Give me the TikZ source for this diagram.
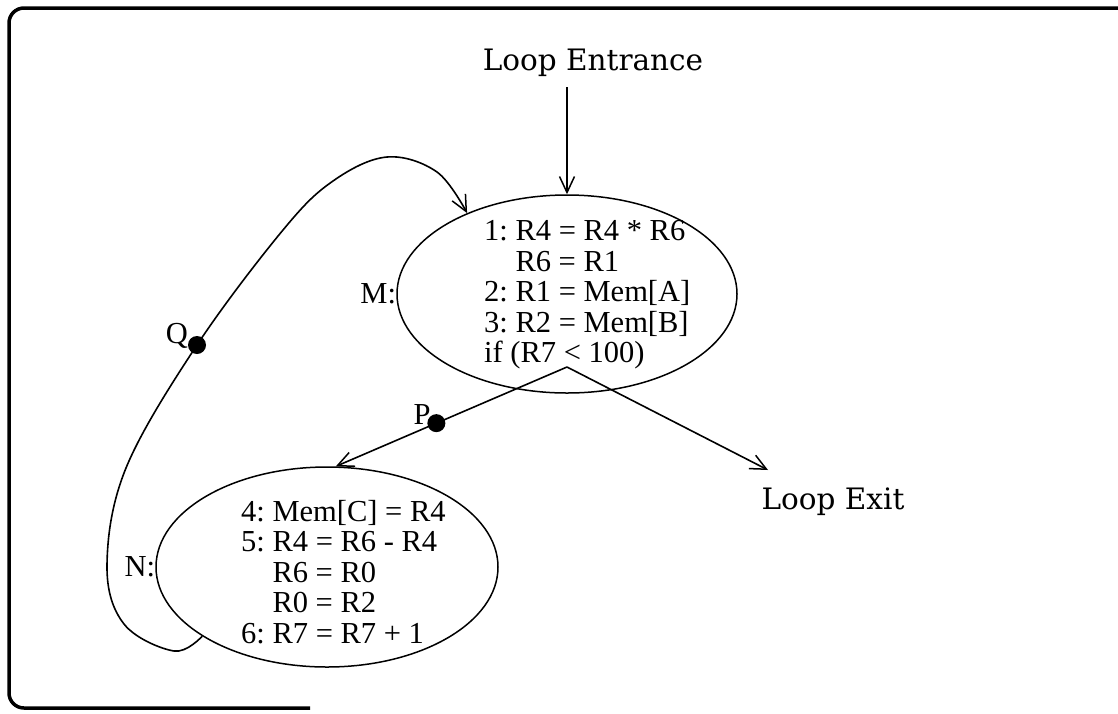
\documentclass[tikz,border=0pt]{standalone}
\usepackage{fontspec}
\setmainfont{Liberation Serif}
\newfontfamily\loopfont{DejaVu Serif}
\usetikzlibrary{shapes.geometric,arrows.meta}
\newcommand{\codefont}{\frenchspacing\fontsize{30.5}{30.5}\selectfont}
\newcommand{\ioFont}{\loopfont\fontsize{29.5}{30}\selectfont}
\tikzset{
  conn/.style={line width=1.6pt},
  arr/.style={conn, -{Straight Barb[length=16pt,width=15pt,line width=1.5pt]}},
  blk/.style={draw, ellipse, line width=1.5pt, inner sep=0pt},
  code/.style={font=\codefont, align=left, anchor=west, inner sep=0pt},
  lbl/.style={font=\codefont, inner sep=0pt},
  io/.style={font=\ioFont, inner sep=0pt},
  dotmark/.style={circle, fill=black, minimum size=18pt, inner sep=0pt},
}
\begin{document}
\begin{tikzpicture}[x=1pt,y=-1pt]
\useasboundingbox (0,0) rectangle (1118,713);
% frame
\draw[line width=3.5pt, rounded corners=15pt] (310,708) -- (9,708) -- (9,8) -- (1118,8);
% blocks
\node[blk, minimum width=340pt, minimum height=198pt] (M) at (567,294) {};
\node[blk, minimum width=342pt, minimum height=200pt] (N) at (327,567) {};
\node[code] (Mtext) at (484,295) {1: R4 = R4 * R6\\\phantom{1: }R6 = R1\\2: R1 = Mem[A]\\3: R2 = Mem[B]\\if (R7 < 100)};
\node[code] (Ntext) at (241,572) {4: Mem[C] = R4\\5: R4 = R6 - R4\\\phantom{1: }R6 = R0\\\phantom{1: }R0 = R2\\6: R7 = R7 + 1};
\node[lbl, anchor=east] (Mlbl) at (M.west) {M:};
\node[lbl, anchor=east] (Nlbl) at (N.west) {N:};
% entrance / exit
\node[io] (entr) at (593,63) {Loop Entrance};
\node[io] (exit) at (833,502) {Loop Exit};
\coordinate (br) at (567,367);
\coordinate (ex) at (768,470);
\draw[arr] (M.north |- entr.south) ++(0,10) -- (M.north);
\draw[arr] (br) -- node[pos=0.565, dotmark] (Pdot) {} (N.85);
\draw[arr] (br) -- (ex);
\node[lbl] (P) at (422,415) {P};
% back edge
\coordinate (q) at (197,345);
\draw[arr] plot[smooth, tension=0.6] coordinates {(N.209) (174,651) (124,624) (107,565) (126,468) (q) (283,230) (333,181) (387,157) (437,172) (M.141)};
\node[dotmark] (Qdot) at (q) {};
\node[lbl] (Q) at (177,336) {Q};
\end{tikzpicture}
\end{document}
